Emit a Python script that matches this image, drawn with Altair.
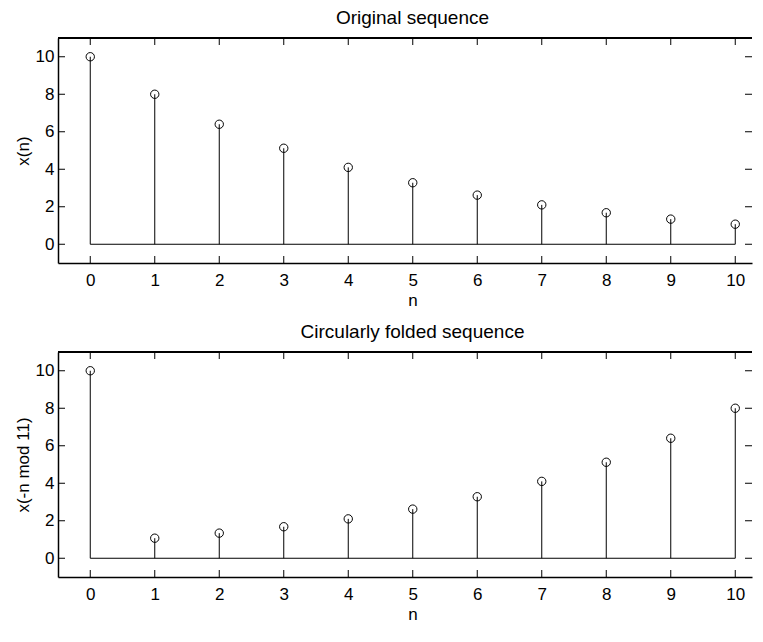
import altair as alt
import pandas as pd

# ---- data ----
n = list(range(11))
x_orig = [10, 8, 6.4, 5.12, 4.1, 3.28, 2.62, 2.1, 1.68, 1.34, 1.07]
x_fold = [10, 1.07, 1.34, 1.68, 2.1, 2.62, 3.28, 4.1, 5.12, 6.4, 8]
x_ticks = list(range(11))
y_ticks = [0, 2, 4, 6, 8, 10]
panel_titles = ["Original sequence", "Circularly folded sequence"]
y_titles = ["x(n)", "x(-n mod 11)"]
x_title = "n"

W = 694
H = 225
TL = 7
FONT = "Liberation Sans"
X_MAX = W / 64.5 - 0.5


def panel(vals, title, ylab):
    df = pd.DataFrame({"n": n, "v": vals})
    xt = pd.DataFrame({"n": x_ticks})
    yt = pd.DataFrame({"v": y_ticks})
    xs = alt.Scale(domain=[-0.5, X_MAX], nice=False, zero=False)
    ys = alt.Scale(domain=[-1, 11], nice=False, zero=False)
    xax = alt.Axis(
        values=x_ticks, title=x_title, tickSize=0, domain=True,
        domainColor="black", domainWidth=1.5, labelPadding=9,
        titlePadding=4, titleX=354.5, titleAlign="center",
        format="d", grid=False, labelFont=FONT, labelFontSize=17,
        labelColor="black", titleFont=FONT, titleFontSize=17,
        titleFontWeight="normal", titleColor="black")
    yax = alt.Axis(
        values=y_ticks, title=ylab, tickSize=0, domain=True,
        domainColor="black", domainWidth=1.5, labelPadding=4,
        titlePadding=3, format="d", grid=False, labelFont=FONT,
        labelFontSize=17, labelColor="black", titleFont=FONT,
        titleFontSize=17, titleFontWeight="normal", titleColor="black")
    xenc = alt.X("n:Q", scale=xs, axis=xax)
    yenc = alt.Y("v:Q", scale=ys, axis=yax)

    stems = alt.Chart(df).mark_rule(color="black", strokeWidth=1).encode(
        x=xenc, y=yenc, y2=alt.datum(0))
    base = alt.Chart(df).mark_rule(color="black", strokeWidth=1).encode(
        x=alt.X("min(n):Q", scale=xs, axis=xax, title=x_title),
        x2="max(n):Q", y=alt.datum(0))
    pts = alt.Chart(df).mark_point(shape="circle", filled=False, size=70,
                                   color="black", strokeWidth=1,
                                   opacity=1).encode(x=xenc, y=yenc)
    tb = alt.Chart(xt).mark_rule(color="black", strokeWidth=1).encode(
        x=xenc, y=alt.value(H), y2=alt.value(H - TL))
    tt = alt.Chart(xt).mark_rule(color="black", strokeWidth=1).encode(
        x=xenc, y=alt.value(0), y2=alt.value(TL))
    tl = alt.Chart(yt).mark_rule(color="black", strokeWidth=1).encode(
        y=yenc, x=alt.value(0), x2=alt.value(TL))
    tr = alt.Chart(yt).mark_rule(color="black", strokeWidth=1).encode(
        y=yenc, x=alt.value(W), x2=alt.value(W - TL))
    top = alt.Chart(df).mark_rule(color="black", strokeWidth=1.5).encode(
        x=alt.value(0), x2=alt.value(W), y=alt.value(0))

    return alt.layer(stems, base, pts, tb, tt, tl, tr, top).properties(
        width=W, height=H,
        title=alt.TitleParams(title, fontSize=19, fontWeight="normal",
                              font=FONT, color="black", offset=9,
                              anchor="middle", frame="group",
                              dx=354.5 - W / 2))


chart = alt.vconcat(
    panel(x_orig, panel_titles[0], y_titles[0]),
    panel(x_fold, panel_titles[1], y_titles[1]),
    spacing=15,
).properties(
    padding={"left": 6, "top": 1, "right": 0, "bottom": 0},
    background="white",
).configure_view(stroke=None)

chart.save("out.html", embed_options={"renderer": "svg", "actions": False})
